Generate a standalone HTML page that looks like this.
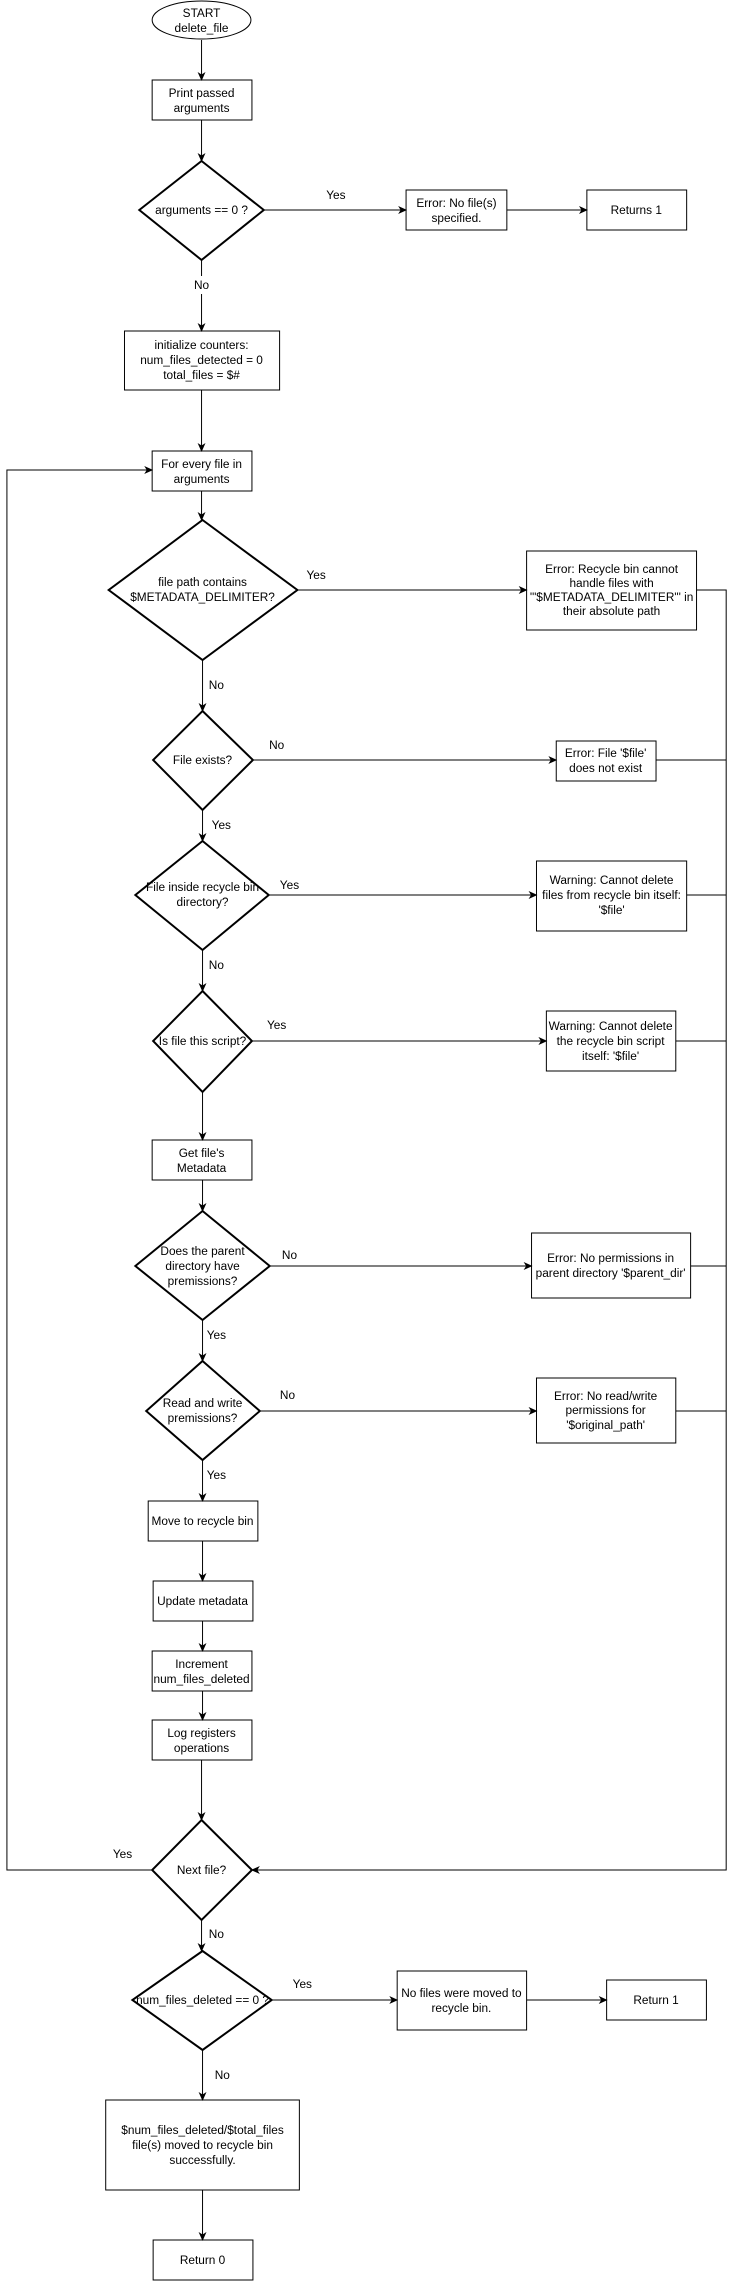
<!DOCTYPE html>
<html><head><meta charset="utf-8"><style>
html,body{margin:0;padding:0;background:#fff}
svg{display:block}
text{font-family:"Liberation Sans",Arial,sans-serif;font-size:12px;fill:#000}
</style></head><body>
<svg width="736" height="2281" viewBox="0 0 736 2281" xmlns="http://www.w3.org/2000/svg">
<defs><marker id="a" markerWidth="10" markerHeight="10" refX="8" refY="4" orient="auto" markerUnits="userSpaceOnUse"><path d="M0,0 L9,4 L0,8 L2.5,4 Z" fill="#000"/></marker></defs>
<g transform="scale(0.988,1)">
<g fill="none" stroke="#000" stroke-width="1">
<ellipse cx="204" cy="20" rx="50" ry="19"/>
<rect x="154" y="80" width="101" height="40"/>
<polygon points="204,161 267,210 204,260 141,210" stroke-width="2"/>
<rect x="411" y="190" width="102" height="40"/>
<rect x="594" y="190" width="101" height="40"/>
<rect x="126" y="331" width="157" height="59"/>
<rect x="154" y="451" width="101" height="40"/>
<polygon points="205,520 301,590 205,660 110,590" stroke-width="2"/>
<rect x="533" y="551" width="172" height="79"/>
<polygon points="205,711 256,760 205,810 155,760" stroke-width="2"/>
<rect x="563" y="741" width="101" height="40"/>
<polygon points="205,841 272,895 205,950 137,895" stroke-width="2"/>
<rect x="543" y="861" width="152" height="70"/>
<polygon points="205,991 255,1041 205,1092 155,1041" stroke-width="2"/>
<rect x="553" y="1011" width="131" height="60"/>
<rect x="154" y="1140" width="101" height="40"/>
<polygon points="205,1211 273,1266 205,1320 137,1266" stroke-width="2"/>
<rect x="538" y="1233" width="161" height="65"/>
<polygon points="205,1361 263,1411 205,1460 148,1411" stroke-width="2"/>
<rect x="543" y="1378" width="141" height="65"/>
<rect x="150" y="1501" width="111" height="40"/>
<rect x="155" y="1581" width="101" height="40"/>
<rect x="154" y="1651" width="101" height="40"/>
<rect x="154" y="1720" width="101" height="40"/>
<polygon points="204,1820 255,1870 204,1920 154,1870" stroke-width="2"/>
<polygon points="205,1951 275,2000 205,2050 134,2000" stroke-width="2"/>
<rect x="402" y="1971" width="131" height="59"/>
<rect x="614" y="1980" width="101" height="40"/>
<rect x="107" y="2100" width="196" height="90"/>
<rect x="155" y="2240" width="101" height="40"/>
</g>
<g fill="none" stroke="#000" stroke-width="1">
<path d="M204,40 V80" marker-end="url(#a)"/>
<path d="M204,120 V161" marker-end="url(#a)"/>
<path d="M267,210 H411" marker-end="url(#a)"/>
<path d="M513,210 H594" marker-end="url(#a)"/>
<path d="M204,260 V276 M204,294 V331" marker-end="url(#a)"/>
<path d="M204,390 V451" marker-end="url(#a)"/>
<path d="M204,491 V520" marker-end="url(#a)"/>
<path d="M301,590 H533" marker-end="url(#a)"/>
<path d="M205,660 V711" marker-end="url(#a)"/>
<path d="M256,760 H563" marker-end="url(#a)"/>
<path d="M205,810 V841" marker-end="url(#a)"/>
<path d="M272,895 H543" marker-end="url(#a)"/>
<path d="M205,950 V991" marker-end="url(#a)"/>
<path d="M255,1041 H553" marker-end="url(#a)"/>
<path d="M205,1092 V1140" marker-end="url(#a)"/>
<path d="M205,1180 V1211" marker-end="url(#a)"/>
<path d="M273,1266 H538" marker-end="url(#a)"/>
<path d="M205,1320 V1361" marker-end="url(#a)"/>
<path d="M263,1411 H543" marker-end="url(#a)"/>
<path d="M205,1460 V1501" marker-end="url(#a)"/>
<path d="M205,1541 V1581" marker-end="url(#a)"/>
<path d="M205,1621 V1651" marker-end="url(#a)"/>
<path d="M205,1691 V1720" marker-end="url(#a)"/>
<path d="M204,1760 V1820" marker-end="url(#a)"/>
<path d="M705,590 H735 V1870 H255" marker-end="url(#a)"/>
<path d="M664,760 H735 M695,895 H735 M684,1041 H735 M699,1266 H735 M684,1411 H735"/>
<path d="M154,1870 H7 V470 H154" marker-end="url(#a)"/>
<path d="M204,1920 V1951" marker-end="url(#a)"/>
<path d="M275,2000 H402" marker-end="url(#a)"/>
<path d="M533,2000 H614" marker-end="url(#a)"/>
<path d="M205,2050 V2100" marker-end="url(#a)"/>
<path d="M205,2190 V2240" marker-end="url(#a)"/>
</g>
<g text-anchor="middle">
<text x="204" y="17">START</text><text x="204" y="32">delete_file</text>
<text x="204" y="97">Print passed</text><text x="204" y="112">arguments</text>
<text x="204" y="214">arguments == 0 ?</text>
<text x="462" y="207">Error: No file(s)</text><text x="462" y="222">specified.</text>
<text x="644" y="214">Returns 1</text>
<text x="340" y="199">Yes</text>
<text x="204" y="289">No</text>
<text x="204" y="349">initialize counters:</text><text x="204" y="364">num_files_detected = 0</text><text x="204" y="379">total_files = $#</text>
<text x="204" y="468">For every file in</text><text x="204" y="483">arguments</text>
<text x="205" y="586">file path contains</text><text x="205" y="601">$METADATA_DELIMITER?</text>
<text x="320" y="579">Yes</text>
<text x="619" y="573">Error: Recycle bin cannot</text><text x="619" y="587">handle files with</text><text x="619" y="601">'"$METADATA_DELIMITER"' in</text><text x="619" y="615">their absolute path</text>
<text x="219" y="689">No</text>
<text x="205" y="764">File exists?</text>
<text x="280" y="749">No</text>
<text x="613" y="757">Error: File '$file'</text><text x="613" y="772">does not exist</text>
<text x="224" y="829">Yes</text>
<text x="205" y="891">File inside recycle bin</text><text x="205" y="906">directory?</text>
<text x="293" y="889">Yes</text>
<text x="619" y="884">Warning: Cannot delete</text><text x="619" y="899">files from recycle bin itself:</text><text x="619" y="914">'$file'</text>
<text x="219" y="969">No</text>
<text x="205" y="1045">Is file this script?</text>
<text x="280" y="1029">Yes</text>
<text x="618" y="1030">Warning: Cannot delete</text><text x="618" y="1045">the recycle bin script</text><text x="618" y="1060">itself: '$file'</text>
<text x="204" y="1157">Get file's</text><text x="204" y="1172">Metadata</text>
<text x="205" y="1255">Does the parent</text><text x="205" y="1270">directory have</text><text x="205" y="1285">premissions?</text>
<text x="293" y="1259">No</text>
<text x="618" y="1262">Error: No permissions in</text><text x="618" y="1277">parent directory '$parent_dir'</text>
<text x="219" y="1339">Yes</text>
<text x="205" y="1407">Read and write</text><text x="205" y="1422">premissions?</text>
<text x="291" y="1399">No</text>
<text x="613" y="1400">Error: No read/write</text><text x="613" y="1414">permissions for</text><text x="613" y="1429">'$original_path'</text>
<text x="219" y="1479">Yes</text>
<text x="205" y="1525">Move to recycle bin</text>
<text x="205" y="1605">Update metadata</text>
<text x="204" y="1668">Increment</text><text x="204" y="1683">num_files_deleted</text>
<text x="204" y="1737">Log registers</text><text x="204" y="1752">operations</text>
<text x="204" y="1874">Next file?</text>
<text x="124" y="1858">Yes</text>
<text x="219" y="1938">No</text>
<text x="205" y="2004">num_files_deleted == 0 ?</text>
<text x="306" y="1988">Yes</text>
<text x="467" y="1997">No files were moved to</text><text x="467" y="2012">recycle bin.</text>
<text x="664" y="2004">Return 1</text>
<text x="225" y="2079">No</text>
<text x="205" y="2134">$num_files_deleted/$total_files</text><text x="205" y="2149">file(s) moved to recycle bin</text><text x="205" y="2164">successfully.</text>
<text x="205" y="2264">Return 0</text>
</g>
</g>
</svg>
</body></html>
